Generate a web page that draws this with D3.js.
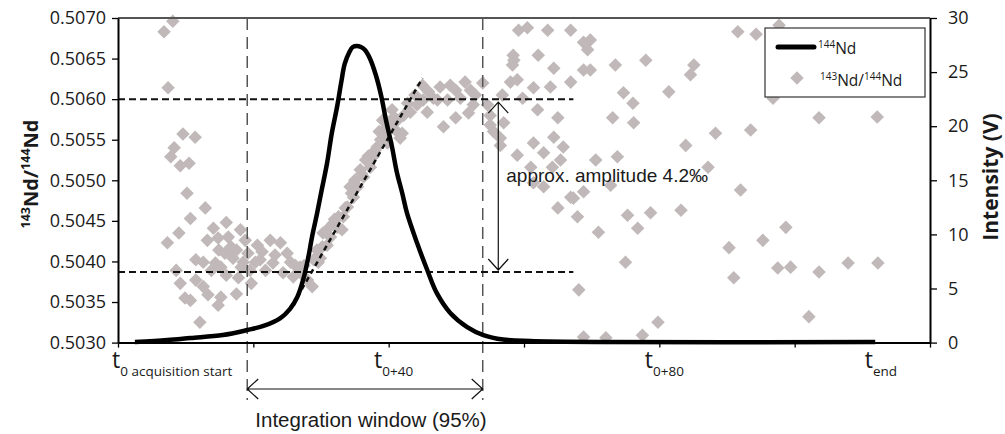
<!DOCTYPE html>
<html>
<head>
<meta charset="utf-8">
<script src="https://cdn.jsdelivr.net/npm/d3@7"></script>
<style>
  body { margin: 0; background: #fff; }
  svg text { font-family: 'Open Sans', sans-serif; fill: #1a1a1a; }
  svg text.note { font-family: 'Liberation Sans', Arial, sans-serif; }
</style>
</head>
<body>
<svg id="chart" width="1005" height="434"></svg>
<script>
'use strict'

// ------ data ------
// 143Nd/144Nd ratio measurements: [time, ratio]
const ratioPoints = [
  [8.1, 0.50696], [6.8, 0.50683], [7.4, 0.50614], [9.6, 0.50557], [11.4, 0.50553], [8.3, 0.50540],
  [7.8, 0.50529], [9.2, 0.50518], [10.5, 0.50521], [10.2, 0.50484], [12.9, 0.50466], [10.7, 0.50453],
  [16.0, 0.50448], [14.1, 0.50441], [18.1, 0.50439], [9.0, 0.50435], [7.3, 0.50423], [16.3, 0.50430],
  [13.2, 0.50426], [14.8, 0.50429], [18.8, 0.50426], [16.7, 0.50418], [15.8, 0.50410], [19.2, 0.50410],
  [17.0, 0.50404], [11.5, 0.50402], [12.6, 0.50399], [14.4, 0.50398], [15.2, 0.50393], [18.2, 0.50393],
  [13.8, 0.50389], [8.6, 0.50389], [19.5, 0.50389], [11.5, 0.50377], [9.2, 0.50373], [19.7, 0.50373],
  [12.6, 0.50369], [13.3, 0.50359], [17.5, 0.50360], [15.2, 0.50356], [9.9, 0.50355], [14.8, 0.50346],
  [12.1, 0.50325], [10.7, 0.50352], [17.5, 0.50414], [14.9, 0.50414], [18.5, 0.50399], [16.0, 0.50383],
  [17.8, 0.50380],
  [20.6, 0.50420], [21.3, 0.50412], [22.5, 0.50426], [24.0, 0.50423], [25.0, 0.50410], [21.0, 0.50402],
  [22.9, 0.50398], [24.4, 0.50386], [25.9, 0.50381], [28.0, 0.50377], [28.7, 0.50369], [26.9, 0.50393],
  [21.8, 0.50389], [23.2, 0.50408], [25.5, 0.50399], [20.3, 0.50399],
  [28.9, 0.50402], [29.4, 0.50414], [30.2, 0.50418], [30.3, 0.50435], [31.4, 0.50430], [31.8, 0.50447],
  [32.4, 0.50442], [32.6, 0.50455], [33.3, 0.50455], [33.9, 0.50467], [34.3, 0.50492], [34.8, 0.50479],
  [35.4, 0.50492], [35.8, 0.50513], [36.3, 0.50504], [37.3, 0.50516], [37.3, 0.50525], [37.7, 0.50529],
  [38.3, 0.50541], [38.8, 0.50550], [39.2, 0.50562], [39.8, 0.50546], [39.1, 0.50574], [40.2, 0.50571],
  [41.3, 0.50574], [41.0, 0.50562], [42.0, 0.50558], [41.7, 0.50552], [42.2, 0.50580], [43.2, 0.50584],
  [44.2, 0.50593], [45.0, 0.50617], [45.1, 0.50599], [45.7, 0.50584], [46.6, 0.50601], [47.6, 0.50615],
  [48.1, 0.50566], [48.7, 0.50599], [49.1, 0.50617], [49.9, 0.50577], [50.6, 0.50601], [51.3, 0.50621],
  [51.8, 0.50583], [52.5, 0.50593], [52.8, 0.50605], [53.9, 0.50620], [54.6, 0.50593], [55.0, 0.50580],
  [55.0, 0.50568], [55.5, 0.50560], [56.5, 0.50552], [56.8, 0.50605], [57.0, 0.50571], [58.0, 0.50621],
  [58.3, 0.50642], [58.4, 0.50654], [59.2, 0.50685], [59.0, 0.50531], [56.5, 0.50543],
  [27.5, 0.50395], [29.6, 0.50399], [30.9, 0.50420], [33.1, 0.50439], [36.6, 0.50525], [38.0, 0.50537],
  [39.5, 0.50552], [40.5, 0.50587], [43.9, 0.50605], [45.9, 0.50609], [47.2, 0.50599], [49.9, 0.50611],
  [52.1, 0.50611],
  [26.2, 0.50395], [27.2, 0.50384], [29.9, 0.50404], [31.0, 0.50440], [32.0, 0.50452], [33.6, 0.50466],
  [34.5, 0.50484], [35.0, 0.50500], [36.0, 0.50508], [37.0, 0.50530], [38.6, 0.50560], [40.8, 0.50578],
  [42.8, 0.50595],
  [60.5, 0.50688], [63.5, 0.50685], [66.9, 0.50685], [68.8, 0.50670], [69.8, 0.50673], [69.4, 0.50661],
  [58.5, 0.50648], [62.1, 0.50654], [64.4, 0.50638], [59.0, 0.50624], [61.4, 0.50614], [63.9, 0.50615],
  [66.9, 0.50621], [68.8, 0.50636], [69.8, 0.50636], [59.8, 0.50601], [62.0, 0.50587], [65.0, 0.50577],
  [61.4, 0.50546], [62.9, 0.50534], [64.4, 0.50553], [65.8, 0.50541], [61.0, 0.50516], [64.2, 0.50516],
  [65.4, 0.50525], [61.4, 0.50497], [62.9, 0.50492], [66.9, 0.50479], [68.8, 0.50486], [67.3, 0.50478],
  [65.0, 0.50466], [67.9, 0.50455], [68.1, 0.50365], [68.8, 0.50307], [70.6, 0.50525],
  [73.5, 0.50642], [78.0, 0.50648], [85.1, 0.50642], [84.6, 0.50630], [74.7, 0.50608], [76.1, 0.50595],
  [81.4, 0.50609], [73.1, 0.50577], [76.2, 0.50571], [88.3, 0.50558], [93.5, 0.50562], [83.9, 0.50543],
  [73.8, 0.50529], [87.2, 0.50516], [92.0, 0.50488], [72.8, 0.50494], [75.3, 0.50457], [78.7, 0.50460],
  [83.2, 0.50463], [71.0, 0.50436], [76.8, 0.50441], [98.7, 0.50442], [95.3, 0.50426], [90.3, 0.50417],
  [75.0, 0.50399], [97.5, 0.50392], [99.4, 0.50393], [103.6, 0.50387], [107.9, 0.50398], [91.0, 0.50380],
  [102.1, 0.50332], [79.8, 0.50325], [72.1, 0.50306], [77.5, 0.50309], [91.6, 0.50683], [94.3, 0.50680],
  [97.7, 0.50691], [96.8, 0.50601], [103.6, 0.50577], [112.2, 0.50578], [112.3, 0.50398]
]

// 144Nd intensity (V)
const intensityTime = [2.5, 7.3, 10.7, 15.5, 19.1, 21.5, 24.0, 25.4, 26.5, 27.4, 28.1, 28.7, 29.4, 30.1,
  30.9, 31.6, 32.4, 33.0, 33.5, 34.2, 34.7, 35.3, 35.9, 36.5, 37.2, 38.1, 38.9, 39.6, 40.5, 41.2, 42.0,
  42.7, 44.2, 45.7, 47.1, 49.1, 51.6, 54.0, 56.9, 60.9, 71.2, 111.9]
const intensityValue = [0.05, 0.24, 0.43, 0.70, 1.16, 1.54, 2.27, 3.10, 4.21, 5.88, 7.82, 9.85, 11.88, 14.10,
  16.60, 19.37, 21.87, 24.09, 25.75, 26.86, 27.32, 27.41, 27.32, 27.04, 26.30, 24.73, 22.79, 20.57, 18.07, 15.77, 13.83,
  11.98, 9.20, 6.71, 4.59, 2.74, 1.44, 0.70, 0.29, 0.15, 0.06, 0.05]

const ratioTicks = [0.5030, 0.5035, 0.5040, 0.5045, 0.5050, 0.5055, 0.5060, 0.5065, 0.5070]
const intensityTicks = [0, 5, 10, 15, 20, 25, 30]
const timeTicks = [0, 20, 40, 60, 80, 100, 120]
const timeLabelAt = [0, 40, 80, 112]
const timeLabelSub = ['0 acquisition start', '0+40', '0+80', 'end']

// annotation values
const integrationWindow = [19.1, 53.9]
const plateauRatio = 0.5060
const baselineRatio = 0.50387
const guideEnd = 67.3
const tangent = [[26.5, 0.50356], [45.0, 0.50626]]
const amplitudeAt = 56.2

// ------ scales ------
const svg = d3.select('#chart')
const plotLeft = 118, plotRight = 930, plotTop = 18, plotBottom = 342.6

const x = d3.scaleLinear().domain([0, 120]).range([plotLeft, plotRight])
const y = d3.scaleLinear().domain([0.503, 0.507]).range([plotBottom, plotTop])
const yI = d3.scaleLinear().domain([0, 30]).range([plotBottom, plotTop])

// ------ ratio scatter ------
const diamond = d3.symbol(d3.symbolSquare, 92)
svg.append('g')
  .selectAll('path')
  .data(ratioPoints)
  .join('path')
  .attr('d', diamond)
  .attr('transform', d => `translate(${x(d[0])},${y(d[1])}) rotate(45)`)
  .attr('fill', '#c1b9b9')

// ------ guide lines ------
svg.append('g')
  .selectAll('line')
  .data(integrationWindow)
  .join('line')
  .attr('x1', d => x(d)).attr('x2', d => x(d))
  .attr('y1', plotTop).attr('y2', 400)
  .attr('stroke', '#555').attr('stroke-width', 1.5)
  .attr('stroke-dasharray', '12,7')

svg.append('g')
  .selectAll('line')
  .data([plateauRatio, baselineRatio])
  .join('line')
  .attr('x1', x(0)).attr('x2', x(guideEnd))
  .attr('y1', d => y(d)).attr('y2', d => y(d))
  .attr('stroke', '#111').attr('stroke-width', 2)
  .attr('stroke-dasharray', '7,4')

svg.append('line')
  .attr('x1', x(tangent[0][0])).attr('y1', y(tangent[0][1]))
  .attr('x2', x(tangent[1][0])).attr('y2', y(tangent[1][1]))
  .attr('stroke', '#111').attr('stroke-width', 2.5)
  .attr('stroke-dasharray', '5,4')

// ------ intensity curve ------
const line = d3.line()
  .x(function (d, i) { return x(intensityTime[i]) })
  .y(function (d) { return yI(d) })
  .curve(d3.curveCatmullRom.alpha(0.5))

svg.append('path')
  .datum(intensityValue)
  .attr('d', line)
  .attr('fill', 'none')
  .attr('stroke', '#000')
  .attr('stroke-width', 4.5)
  .attr('stroke-linejoin', 'round')

// ------ axes ------
function styleAxis (g) {
  g.select('.domain').attr('stroke', '#000').attr('stroke-width', 2)
  g.selectAll('.tick line').attr('stroke', '#000').attr('stroke-width', 1.3)
  g.selectAll('.tick text').attr('font-size', 18).attr('fill', '#1a1a1a')
}

svg.append('line')
  .attr('x1', plotLeft).attr('x2', plotRight).attr('y1', plotTop).attr('y2', plotTop)
  .attr('stroke', '#555').attr('stroke-width', 2)

svg.append('g')
  .attr('transform', `translate(${plotLeft},0)`)
  .call(d3.axisLeft(y).tickValues(ratioTicks).tickFormat(d3.format('.4f')).tickSize(6).tickSizeOuter(0).tickPadding(6))
  .call(styleAxis)

svg.append('g')
  .attr('transform', `translate(${plotRight},0)`)
  .call(d3.axisRight(yI).tickValues(intensityTicks).tickSize(7).tickSizeOuter(0).tickPadding(11))
  .call(styleAxis)

svg.append('g')
  .attr('transform', `translate(0,${plotBottom})`)
  .call(d3.axisBottom(x).tickValues(timeTicks).tickFormat('').tickSize(5).tickSizeOuter(0))
  .call(styleAxis)

// t labels with subscripts
const tLabels = svg.append('g')
  .selectAll('text')
  .data(timeLabelAt)
  .join('text')
  .attr('x', (d, i) => i === 0 ? x(d) - 6 : x(d) + 5)
  .attr('y', 368)
  .attr('text-anchor', (d, i) => i === 0 ? 'start' : 'middle')
tLabels.append('tspan').attr('font-size', 23).text('t')
tLabels.append('tspan').attr('font-size', 13.5).attr('dy', 8).text((d, i) => timeLabelSub[i])

// axis titles
const yTitle = svg.append('text')
  .attr('transform', 'translate(38,174) rotate(-90)')
  .attr('text-anchor', 'middle')
  .attr('font-weight', 'bold')
  .attr('font-size', 20)
yTitle.append('tspan').attr('font-size', 12.5).attr('dy', -8).text('143')
yTitle.append('tspan').attr('dy', 8).text('Nd/')
yTitle.append('tspan').attr('font-size', 12.5).attr('dy', -8).text('144')
yTitle.append('tspan').attr('dy', 8).text('Nd')

svg.append('text')
  .attr('transform', 'translate(998,177) rotate(-90)')
  .attr('text-anchor', 'middle')
  .attr('font-weight', 'bold')
  .attr('font-size', 21)
  .text('Intensity (V)')

// ------ annotations ------
function arrowHead (ctx, px, py, dx, dy) {
  // open V head pointing to (px, py) along (dx, dy)
  ctx.moveTo(px - dx * 11 + dy * 10, py - dy * 11 - dx * 10)
  ctx.lineTo(px, py)
  ctx.lineTo(px - dx * 11 - dy * 10, py - dy * 11 + dx * 10)
}

const ax = x(amplitudeAt)
const amp = d3.path()
amp.moveTo(ax, y(plateauRatio) + 3)
amp.lineTo(ax, y(baselineRatio) - 2)
arrowHead(amp, ax, y(plateauRatio) + 3, 0, -1)
arrowHead(amp, ax, y(baselineRatio) - 2, 0, 1)
svg.append('path').attr('d', amp.toString())
  .attr('fill', 'none').attr('stroke', '#111').attr('stroke-width', 1.2)

svg.append('text')
  .attr('class', 'note')
  .attr('x', ax + 8).attr('y', 182)
  .attr('font-size', 19)
  .text('approx. amplitude 4.2‰')

const wy = 389
const win = d3.path()
win.moveTo(x(integrationWindow[0]), wy)
win.lineTo(x(integrationWindow[1]), wy)
arrowHead(win, x(integrationWindow[0]), wy, -1, 0)
arrowHead(win, x(integrationWindow[1]), wy, 1, 0)
svg.append('path').attr('d', win.toString())
  .attr('fill', 'none').attr('stroke', '#111').attr('stroke-width', 1.2)

svg.append('text')
  .attr('class', 'note')
  .attr('x', (x(integrationWindow[0]) + x(integrationWindow[1])) / 2 + 6)
  .attr('y', 427)
  .attr('text-anchor', 'middle')
  .attr('font-size', 20.5)
  .text('Integration window (95%)')

// ------ legend ------
const legend = svg.append('g').attr('transform', 'translate(765,28)')
legend.append('rect')
  .attr('width', 160).attr('height', 69)
  .attr('fill', '#fff').attr('stroke', '#333').attr('stroke-width', 1.2)
legend.append('line')
  .attr('x1', 13).attr('x2', 49).attr('y1', 19).attr('y2', 19)
  .attr('stroke', '#000').attr('stroke-width', 5).attr('stroke-linecap', 'round')
const l1 = legend.append('text').attr('x', 53).attr('y', 26).attr('font-size', 15.5)
l1.append('tspan').attr('font-size', 10).attr('dy', -6).text('144')
l1.append('tspan').attr('dy', 6).text('Nd')
legend.append('path')
  .attr('d', diamond)
  .attr('transform', 'translate(32,50) rotate(45)')
  .attr('fill', '#c1b9b9')
const l2 = legend.append('text').attr('x', 55).attr('y', 58).attr('font-size', 15.5)
l2.append('tspan').attr('font-size', 10).attr('dy', -6).text('143')
l2.append('tspan').attr('dy', 6).text('Nd/')
l2.append('tspan').attr('font-size', 10).attr('dy', -6).text('144')
l2.append('tspan').attr('dy', 6).text('Nd')
</script>
</body>
</html>
